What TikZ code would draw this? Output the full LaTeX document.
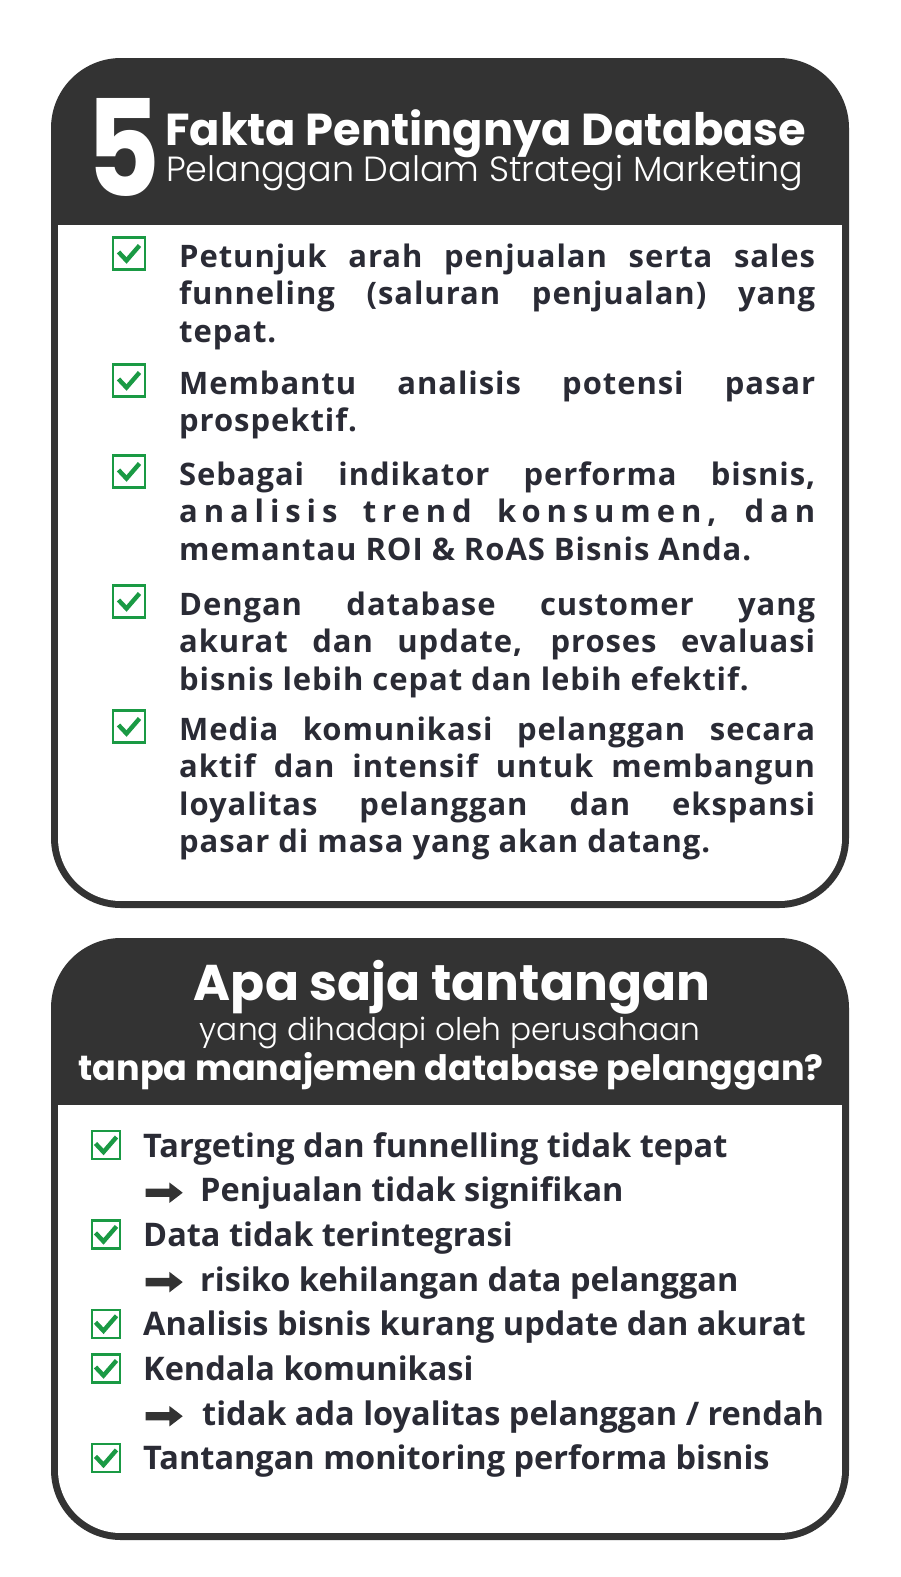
\documentclass[tikz,border=0pt]{standalone}
\usepackage{fontspec}
\setmainfont{Open Sans}
\newfontfamily\hfont{Poppins}
\newfontfamily\hlight{Poppins Light}
\newfontfamily\bodyA[LetterSpace=3]{Open Sans}
\newfontfamily\bodyW[LetterSpace=19]{Open Sans}
\usetikzlibrary{shapes.arrows}
\definecolor{dark}{HTML}{333333}
\definecolor{ink}{HTML}{2A2B35}
\definecolor{chkgreen}{HTML}{1A9A44}
\newcommand{\jline}[1]{\makebox[636pt][s]{#1}}
\tikzset{
  chk/.style={draw=chkgreen, line width=2.2pt, minimum size=#1, inner sep=0pt, fill=white,
    path picture={\draw[chkgreen, line width=4.4pt, shift={(path picture bounding box.center)}, scale=#1/32]
      (-10.5pt,1.5pt) -- (-2.5pt,-7pt) -- (10.5pt,8pt);}},
  tA/.style={anchor=base west, inner sep=0pt, text=ink, font=\bodyA\bfseries\fontsize{31}{33}\selectfont},
  tB/.style={anchor=base west, inner sep=0pt, text=ink, font=\bfseries\fontsize{32.5}{34}\selectfont},
  arr/.style={single arrow, fill=dark, draw=none, minimum height=37pt, inner sep=4pt,
    single arrow head extend=6pt, single arrow tip angle=75},
  hd/.style={inner sep=0pt, text=white},
}
\begin{document}
\begin{tikzpicture}[x=1pt,y=-1pt]
\useasboundingbox (0,0) rectangle (901,1577);
\fill[white] (0,0) rectangle (901,1577);
% panel 1
\fill[dark, rounded corners=70pt] (51,58) rectangle (849,908);
\begin{scope}
\clip[rounded corners=63pt] (58,65) rectangle (842,901);
\fill[white] (58,225) rectangle (842,901);
\end{scope}
% panel 2
\fill[dark, rounded corners=70pt] (51,938) rectangle (849,1540);
\begin{scope}
\clip[rounded corners=63pt] (58,945) rectangle (842,1533);
\fill[white] (58,1105) rectangle (842,1533);
\end{scope}
% header 1
\node[hd, anchor=south] (five) at (123.5,197) {\resizebox{74pt}{98pt}{\hfont\bfseries 5}};
\node[hd, anchor=base west] (h1a) at (165,145) {\resizebox{641pt}{!}{\hfont\bfseries Fakta Pentingnya Database}};
\node[hd, anchor=base west] (h1b) at (166,181) {\resizebox{637pt}{!}{\hlight Pelanggan Dalam Strategi Marketing}};
% header 2
\node[hd, anchor=base] (h2a) at (452,1000) {\resizebox{516pt}{!}{\hfont\bfseries Apa saja tantangan}};
\node[hd, anchor=base] (h2b) at (450,1040) {\resizebox{500pt}{!}{\hlight yang dihadapi oleh perusahaan}};
\node[hd, anchor=base] (h2c) at (451,1080) {\resizebox{745pt}{!}{\hfont\bfseries tanpa manajemen database pelanggan?}};
% panel 1 items
\node[chk=32pt] (k1) at (129,253.5) {};
\node[tA] (l1a) at (179,267) {\jline{Petunjuk arah penjualan serta sales}};
\node[tA] (l1b) at (179,304.5) {\jline{funneling (saluran penjualan) yang}};
\node[tA] (l1c) at (179,342) {tepat.};
\node[chk=32pt] (k2) at (129,380.5) {};
\node[tA] (l2a) at (179,394) {\jline{Membantu analisis potensi pasar}};
\node[tA] (l2b) at (179,431.5) {prospektif.};
\node[chk=32pt] (k3) at (129,471.5) {};
\node[tA] (l3a) at (179,485) {\jline{Sebagai indikator performa bisnis,}};
\node[tA, font=\bodyW\bfseries\fontsize{31}{33}\selectfont] (l3b) at (179,522.5) {\jline{analisis trend konsumen, dan}};
\node[tA] (l3c) at (179,560) {memantau ROI \& RoAS Bisnis Anda.};
\node[chk=32pt] (k4) at (129,601.5) {};
\node[tA] (l4a) at (179,615) {\jline{Dengan database customer yang}};
\node[tA] (l4b) at (179,652.5) {\jline{akurat dan update, proses evaluasi}};
\node[tA] (l4c) at (179,690) {bisnis lebih cepat dan lebih efektif.};
\node[chk=32pt] (k5) at (129,726.5) {};
\node[tA] (l5a) at (179,740) {\jline{Media komunikasi pelanggan secara}};
\node[tA] (l5b) at (179,777.5) {\jline{aktif dan intensif untuk membangun}};
\node[tA] (l5c) at (179,815) {\jline{loyalitas pelanggan dan ekspansi}};
\node[tA] (l5d) at (179,852.5) {pasar di masa yang akan datang.};
% panel 2 items
\node[chk=28pt] (m1) at (106,1145) {};
\node[tB] (n1) at (143,1157) {Targeting dan funnelling tidak tepat};
\node[arr] (a1) at (161.5,1192.7) {};
\node[tB] (n1b) at (200,1201.7) {Penjualan tidak signifikan};
\node[chk=28pt] (m2) at (106,1234.4) {};
\node[tB] (n2) at (143,1246.4) {Data tidak terintegrasi};
\node[arr] (a2) at (161.5,1282.1) {};
\node[tB] (n2b) at (200,1291.1) {risiko kehilangan data pelanggan};
\node[chk=28pt] (m3) at (106,1323.8) {};
\node[tB] (n3) at (143,1335.8) {Analisis bisnis kurang update dan akurat};
\node[chk=28pt] (m4) at (106,1368.5) {};
\node[tB] (n4) at (143,1380.5) {Kendala komunikasi};
\node[arr] (a4) at (161.5,1416.2) {};
\node[tB] (n4b) at (202,1425.2) {tidak ada loyalitas pelanggan / rendah};
\node[chk=28pt] (m5) at (106,1457.9) {};
\node[tB] (n5) at (143,1469.9) {Tantangan monitoring performa bisnis};
\end{tikzpicture}
\end{document}
